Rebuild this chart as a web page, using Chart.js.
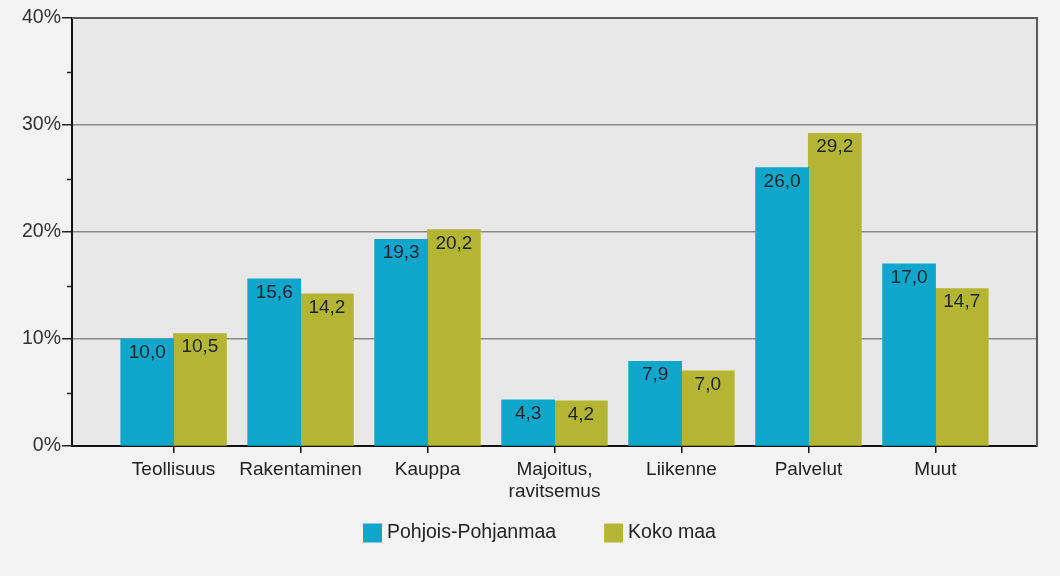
<!DOCTYPE html>
<html lang="fi">
<head>
    <meta charset="UTF-8">
    <title>Toimialat</title>
    <script src="https://cdn.jsdelivr.net/npm/chart.js@4/dist/chart.umd.min.js"></script>
    <style>
        html, body { margin: 0; padding: 0; background: #f3f3f3; }
        #wrap { width: 1060px; height: 576px; }
    </style>
</head>
<body>
    <div id="wrap"><canvas id="chart" width="1060" height="576"></canvas></div>
    <script>
        var categories = ['Teollisuus', 'Rakentaminen', 'Kauppa', ['Majoitus,', 'ravitsemus'], 'Liikenne', 'Palvelut', 'Muut'];
        var seriesNames = ['Pohjois-Pohjanmaa', 'Koko maa'];
        var pohjoisPohjanmaa = [10.0, 15.6, 19.3, 4.3, 7.9, 26.0, 17.0];
        var kokoMaa = [10.5, 14.2, 20.2, 4.2, 7.0, 29.2, 14.7];
        var yTicks = [0, 10, 20, 30, 40];

        var FONT = '"Liberation Sans", Arial, sans-serif';
        var colors = ['#0ea7cb', '#b5b534'];

        function points(values) {
            return values.map(function (v, i) { return { x: i, y: v }; });
        }

        // plot background, frame and minor ticks
        var framePlugin = {
            id: 'frame',
            beforeDraw: function (chart) {
                var a = chart.chartArea, ctx = chart.ctx;
                ctx.save();
                ctx.fillStyle = '#e8e8e8';
                ctx.fillRect(a.left, a.top, a.right - a.left, a.bottom - a.top);
                ctx.restore();
            },
            afterDatasetsDraw: function (chart) {
                var a = chart.chartArea, ctx = chart.ctx, y = chart.scales.y;
                ctx.save();
                ctx.strokeStyle = '#5a5a5a';
                ctx.lineWidth = 2;
                ctx.beginPath();
                ctx.moveTo(a.left, a.top);
                ctx.lineTo(a.right, a.top);
                ctx.lineTo(a.right, a.bottom);
                ctx.stroke();
                ctx.strokeStyle = '#222';
                ctx.lineWidth = 1.5;
                for (var v = 5; v < 40; v += 10) {
                    var py = Math.round(y.getPixelForValue(v)) + 0.5;
                    ctx.beginPath();
                    ctx.moveTo(a.left - 5, py);
                    ctx.lineTo(a.left, py);
                    ctx.stroke();
                }
                ctx.restore();
            }
        };

        // value labels inside bar tops
        var valuePlugin = {
            id: 'values',
            afterDatasetsDraw: function (chart) {
                var ctx = chart.ctx;
                ctx.save();
                ctx.font = '19px ' + FONT;
                ctx.fillStyle = '#1c2430';
                ctx.textAlign = 'center';
                ctx.textBaseline = 'top';
                chart.data.datasets.forEach(function (ds, di) {
                    chart.getDatasetMeta(di).data.forEach(function (bar, i) {
                        var txt = ds.data[i].y.toFixed(1).replace('.', ',');
                        ctx.fillText(txt, bar.x, bar.y + 4);
                    });
                });
                ctx.restore();
            }
        };

        // legend drawn under the axis
        var legendPlugin = {
            id: 'ownLegend',
            afterDraw: function (chart) {
                var ctx = chart.ctx;
                ctx.save();
                ctx.font = '19.5px ' + FONT;
                ctx.textBaseline = 'middle';
                var box = 19, gap = 5, space = 48, cy = 533;
                var x = 363;
                seriesNames.forEach(function (n, i) {
                    ctx.fillStyle = colors[i];
                    ctx.fillRect(x, cy - box / 2, box, box);
                    ctx.fillStyle = '#222';
                    ctx.fillText(n, x + box + gap, cy);
                    x += box + gap + ctx.measureText(n).width + space;
                });
                ctx.restore();
            }
        };

        new Chart(document.getElementById('chart'), {
            type: 'bar',
            data: {
                datasets: [{
                    label: seriesNames[0],
                    data: points(pohjoisPohjanmaa),
                    backgroundColor: colors[0],
                    borderWidth: 0,
                    inflateAmount: 0.5,
                    categoryPercentage: 0.83,
                    barPercentage: 1.0
                }, {
                    label: seriesNames[1],
                    data: points(kokoMaa),
                    backgroundColor: colors[1],
                    borderWidth: 0,
                    inflateAmount: 0.5,
                    categoryPercentage: 0.83,
                    barPercentage: 1.0
                }]
            },
            options: {
                responsive: false,
                animation: false,
                layout: { padding: { left: 0, top: 18, right: 23, bottom: 0 } },
                plugins: {
                    legend: { display: false },
                    tooltip: { enabled: false }
                },
                scales: {
                    x: {
                        type: 'linear',
                        min: -0.8,
                        max: 6.8,
                        offset: false,
                        afterFit: function (s) { s.height = 130; },
                        grid: {
                            offset: false,
                            drawOnChartArea: false,
                            color: '#111',
                            tickColor: '#111',
                            tickLength: 7,
                            lineWidth: 1.5
                        },
                        border: { color: '#111', width: 2 },
                        ticks: {
                            stepSize: 1,
                            includeBounds: false,
                            autoSkip: false,
                            maxRotation: 0,
                            padding: 5,
                            color: '#222',
                            font: { family: FONT, size: 19 },
                            callback: function (v) { return categories[v] !== undefined ? categories[v] : ''; }
                        }
                    },
                    y: {
                        min: 0,
                        max: 40,
                        afterFit: function (s) { s.width = 72; },
                        afterBuildTicks: function (s) {
                            s.ticks = yTicks.map(function (v) { return { value: v }; });
                        },
                        grid: {
                            color: function (c) {
                                var v = c.tick ? c.tick.value : 0;
                                return (v === 0 || v === 40) ? 'rgba(0,0,0,0)' : '#8a8a8a';
                            },
                            tickColor: '#222',
                            tickLength: 10,
                            lineWidth: 1.5
                        },
                        border: { color: '#111', width: 2 },
                        ticks: {
                            padding: 1,
                            color: '#333',
                            font: { family: FONT, size: 19.5 },
                            callback: function (v) { return v + '%'; }
                        }
                    }
                }
            },
            plugins: [framePlugin, valuePlugin, legendPlugin]
        });
    </script>
</body>
</html>
